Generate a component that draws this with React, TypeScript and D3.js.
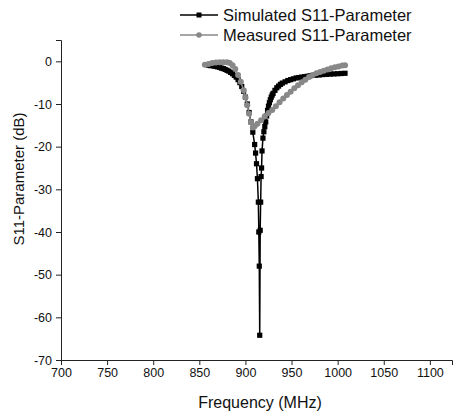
import { useRef, useEffect } from "react";
import { select, scaleLinear, axisBottom, axisLeft, line } from "d3";

// Simulated S11 (black, squares)
const simFreq = [
  860, 862, 864, 866, 868, 870, 872, 874, 876, 878, 880, 882, 884, 886, 888,
  890, 892, 894, 896, 898, 900, 902, 904, 906, 908, 910, 911, 912, 913, 914,
  914.5, 915, 915.5, 916, 916.5, 917, 917.5, 918, 919, 920, 921, 922, 923, 924,
  925, 926, 927, 928, 929, 930, 932, 934, 936, 938, 940, 943, 946, 949, 952,
  955, 958, 961, 964, 967, 970, 973, 976, 980, 984, 988, 992, 996, 1000, 1004,
  1008,
];
const simS11 = [
  -0.9, -1.0, -1.0, -1.1, -1.2, -1.3, -1.4, -1.6, -1.7, -1.9, -2.1, -2.3, -2.6,
  -2.9, -3.3, -3.7, -4.3, -5.0, -5.9, -7.0, -8.4, -10.0, -12.0, -14.2, -16.6,
  -19.5, -21.5, -24.0, -27.5, -33.0, -40.0, -48.0, -64.2, -39.6, -33.0, -27.0,
  -25.0, -21.0, -18.0, -16.5, -15.3, -14.2, -12.8, -11.5, -10.5, -9.7, -9.0,
  -8.4, -7.9, -7.5, -6.8, -6.2, -5.8, -5.4, -5.1, -4.8, -4.5, -4.3, -4.1, -3.9,
  -3.8, -3.7, -3.6, -3.5, -3.4, -3.3, -3.25, -3.2, -3.1, -3.05, -3.0, -2.95,
  -2.9, -2.85, -2.8,
];

// Measured S11 (gray, circles)
const measFreq = [
  856, 860, 864, 868, 872, 876, 880, 883, 886, 889, 892, 895, 898, 900, 902,
  904, 906, 908, 910, 913, 917, 921, 925, 929, 933, 937, 941, 945, 949, 953,
  957, 961, 965, 969, 973, 977, 981, 985, 989, 993, 997, 1001, 1005, 1008,
];
const measS11 = [
  -0.8, -0.6, -0.4, -0.3, -0.2, -0.2, -0.2, -0.4, -0.9, -1.8, -3.2, -4.8, -6.8,
  -8.5, -10.3, -12.3, -14.3, -15.5, -15.2, -14.6, -13.8, -12.9, -12.1, -11.4,
  -10.5, -9.6, -8.7, -7.9, -7.1, -6.3, -5.6, -4.9, -4.3, -3.7, -3.2, -2.8, -2.5,
  -2.2, -1.9, -1.6, -1.4, -1.2, -1.0, -0.9,
];

const xTicks = [700, 750, 800, 850, 900, 950, 1000, 1050, 1100];
const yTicks = [0, -10, -20, -30, -40, -50, -60, -70];
const legendLabels = ["Simulated S11-Parameter", "Measured S11-Parameter"];

const FONT = "Arial, 'Liberation Sans', sans-serif";

export default function App() {
  const svgRef = useRef<SVGSVGElement>(null);

  useEffect(() => {
    const svg = select(svgRef.current);
    svg.selectAll("*").remove();

    const margin = { left: 61, top: 40, right: 452, bottom: 360 };
    const x = scaleLinear().domain([700, 1124]).range([margin.left, margin.right]);
    const y = scaleLinear().domain([-70, 5]).range([margin.bottom, margin.top]);

    // minor ticks halfway between the majors
    const xMinor = xTicks.map((t) => t + 25).filter((t) => t < 1124);
    const yMinor = yTicks.map((t) => t + 5);

    const gx = svg.append("g").attr("transform", `translate(0,${margin.bottom})`);
    gx.call(axisBottom(x).tickValues(xMinor).tickSize(3).tickFormat(() => ""));
    gx.call(axisBottom(x).tickValues(xTicks).tickSize(5).tickPadding(3).tickFormat((d) => String(d)));
    gx.selectAll("text").attr("font-size", 12.5).attr("font-family", FONT).attr("fill", "#111");

    const gy = svg.append("g").attr("transform", `translate(${margin.left},0)`);
    gy.call(axisLeft(y).tickValues(yMinor).tickSize(3).tickFormat(() => ""));
    gy.call(axisLeft(y).tickValues(yTicks).tickSize(5).tickPadding(4).tickFormat((d) => String(d)));
    gy.selectAll("text").attr("font-size", 12.5).attr("font-family", FONT).attr("fill", "#111");

    svg.selectAll(".domain").attr("stroke", "#222");
    svg.selectAll(".tick line").attr("stroke", "#222");

    const series = [
      { f: simFreq, v: simS11, color: "#000", shape: "square" },
      { f: measFreq, v: measS11, color: "#888", shape: "circle" },
    ];

    series.forEach((s, si) => {
      const pts = s.f.map((f, i) => [x(f), y(s.v[i])] as [number, number]);
      const g = svg.append("g");
      g.append("path")
        .attr("d", line()(pts))
        .attr("fill", "none")
        .attr("stroke", s.color)
        .attr("stroke-width", 1.5);
      if (s.shape === "square") {
        g.selectAll("rect")
          .data(pts)
          .join("rect")
          .attr("x", (p) => p[0] - 2.6)
          .attr("y", (p) => p[1] - 2.6)
          .attr("width", 5.2)
          .attr("height", 5.2)
          .attr("fill", s.color);
      } else {
        g.selectAll("circle")
          .data(pts)
          .join("circle")
          .attr("cx", (p) => p[0])
          .attr("cy", (p) => p[1])
          .attr("r", 3)
          .attr("fill", s.color);
      }

      // legend
      const ly = 15 + si * 20;
      const lg = svg.append("g");
      lg.append("line")
        .attr("x1", 180)
        .attr("x2", 218)
        .attr("y1", ly)
        .attr("y2", ly)
        .attr("stroke", s.color)
        .attr("stroke-width", 1.5);
      if (s.shape === "square") {
        lg.append("rect").attr("x", 196.5).attr("y", ly - 2.5).attr("width", 5).attr("height", 5).attr("fill", s.color);
      } else {
        lg.append("circle").attr("cx", 199).attr("cy", ly).attr("r", 2.8).attr("fill", s.color);
      }
      lg.append("text")
        .attr("x", 223)
        .attr("y", ly + 5.5)
        .attr("font-size", 16.5)
        .attr("font-family", FONT)
        .attr("fill", "#111")
        .text(legendLabels[si]);
    });

    svg.append("text")
      .attr("x", 260)
      .attr("y", 408)
      .attr("text-anchor", "middle")
      .attr("font-size", 16)
      .attr("font-family", FONT)
      .attr("fill", "#111")
      .text("Frequency (MHz)");

    svg.append("text")
      .attr("transform", `translate(24,179) rotate(-90)`)
      .attr("text-anchor", "middle")
      .attr("font-size", 15)
      .attr("font-family", FONT)
      .attr("fill", "#111")
      .text("S11-Parameter (dB)");
  }, []);

  return (
    <svg
      ref={svgRef}
      width={453}
      height={414}
      style={{ position: "absolute", left: 0, top: 0, background: "#fff" }}
    />
  );
}
